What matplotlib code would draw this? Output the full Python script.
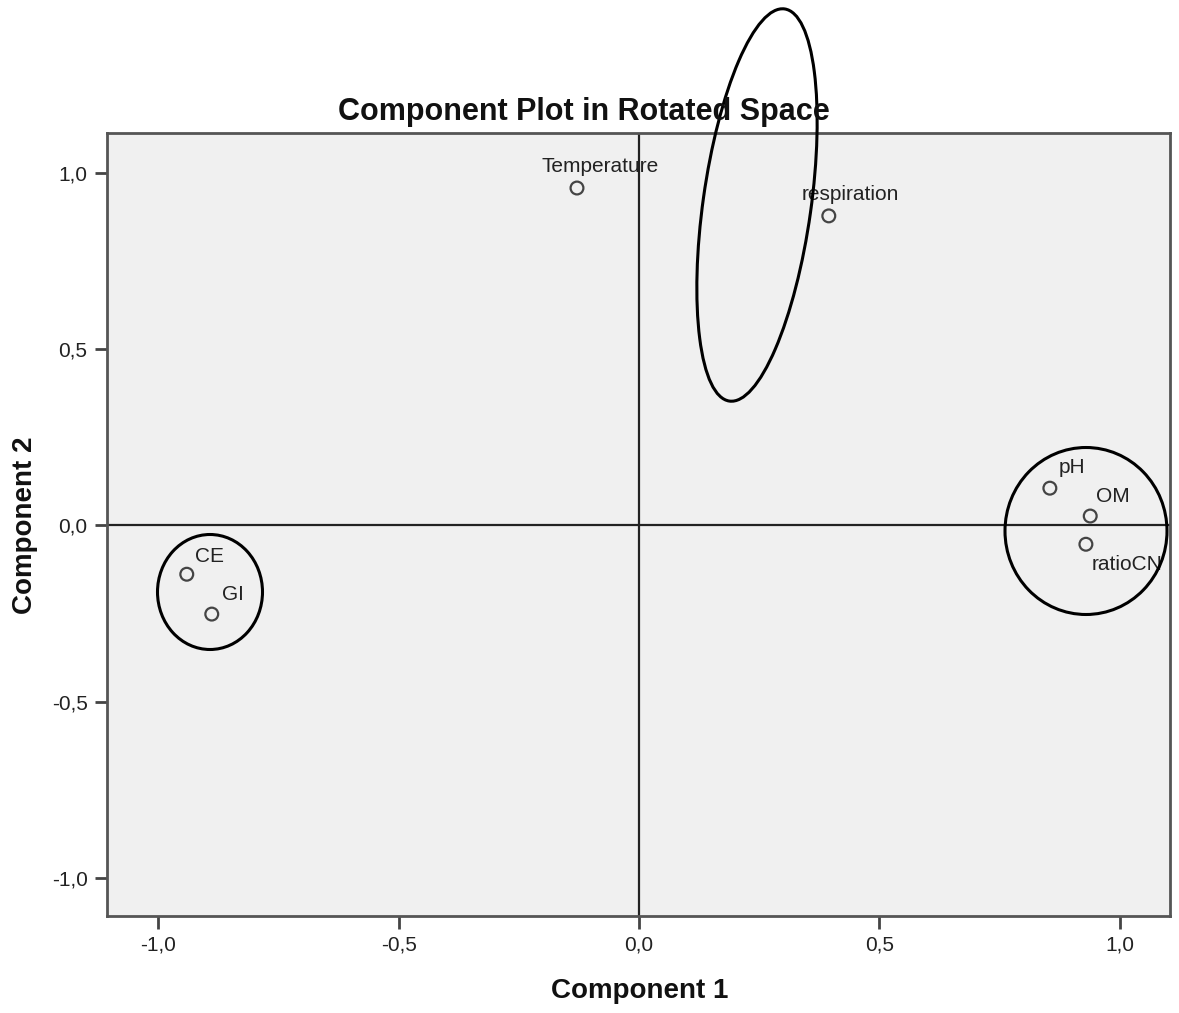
import matplotlib
matplotlib.use("Agg")
import matplotlib.pyplot as plt
from matplotlib.patches import Ellipse
from matplotlib.transforms import Affine2D

plt.rcParams['font.family'] = ['Liberation Sans', 'DejaVu Sans']

# rotated component loadings
variables = ['Temperature', 'respiration', 'pH', 'OM', 'ratioCN', 'CE', 'GI']
comp1 = [-0.129, 0.395, 0.855, 0.939, 0.930, -0.941, -0.889]
comp2 = [0.956, 0.877, 0.105, 0.026, -0.054, -0.139, -0.252]
ticks = [-1.0, -0.5, 0.0, 0.5, 1.0]
tick_labels = ['-1,0', '-0,5', '0,0', '0,5', '1,0']

# label offsets (pixels) from each point
offsets = {'Temperature': (-35, 16), 'respiration': (-27, 16), 'pH': (9, 15),
           'OM': (6, 14), 'ratioCN': (6, -26), 'CE': (8, 12), 'GI': (10, 14)}

W, H = 1179, 1013
fig = plt.figure(figsize=(W / 100, H / 100), dpi=100)
ax = fig.add_axes([107 / W, 1 - 916 / H, (1170 - 107) / W, (916 - 133) / H])
ax.set_facecolor('#f0f0f0')

ax.axhline(0, color='#222222', lw=1.6, zorder=1)
ax.axvline(0, color='#222222', lw=1.6, zorder=1)
ax.scatter(comp1, comp2, s=85, facecolors='none', edgecolors='#444444',
           linewidths=1.6, zorder=3)
for name, x, y in zip(variables, comp1, comp2):
    ax.annotate(name, (x, y), xytext=offsets[name], textcoords='offset pixels',
                ha='left', va='baseline', fontsize=15, color='#222222')

ax.set_xlim(-1.107, 1.105)
ax.set_ylim(-1.108, 1.112)
ax.set_xticks(ticks)
ax.set_xticklabels(tick_labels)
ax.set_yticks(ticks)
ax.set_yticklabels(tick_labels)
ax.tick_params(direction='out', length=9, width=2, color='#444444',
               labelsize=15, labelcolor='#222222', pad=5)
for sp in ax.spines.values():
    sp.set_color('#555555')
    sp.set_linewidth(2)

fig.text(584 / W, 1 - 112 / H, 'Component Plot in Rotated Space', ha='center',
         va='center', fontsize=22, fontweight='bold', color='#111111')
fig.text(640 / W, 1 - 991 / H, 'Component 1', ha='center', va='center',
         fontsize=20, fontweight='bold', color='#111111')
fig.text(25 / W, 1 - 525 / H, 'Component 2', ha='center', va='center',
         rotation=90, fontsize=20, fontweight='bold', color='#111111')

# hand-drawn group outlines, in image pixels (origin top-left)
px = Affine2D().scale(1, -1).translate(0, H)
outlines = [((757, 205), 396, 108, -82), ((1086, 531), 162, 167, 0),
            ((210, 592), 105, 115, 0)]
for (cx, cy), w, h, ang in outlines:
    e = Ellipse((cx, cy), w, h, angle=ang, fill=False, edgecolor='black',
                lw=2.2, transform=px, clip_on=False)
    fig.add_artist(e)

fig.savefig('out.png', dpi=100)
